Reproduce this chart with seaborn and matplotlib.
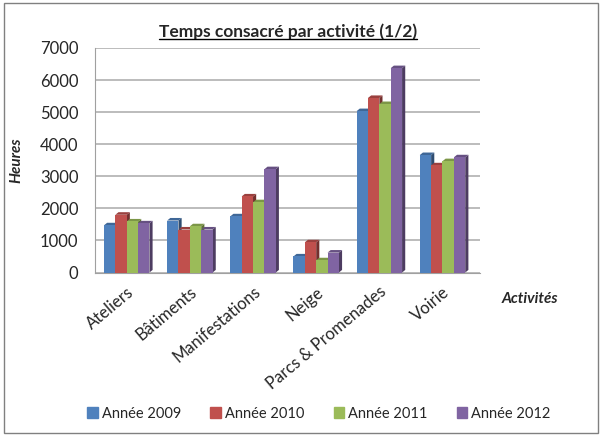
import pandas as pd
import seaborn as sns
from matplotlib import pyplot as plt
from matplotlib.patches import Polygon, Rectangle
import matplotlib.colors as mcolors

activites = ["Ateliers", "Bâtiments", "Manifestations", "Neige", "Parcs & Promenades", "Voirie"]
annees = ["Année 2009", "Année 2010", "Année 2011", "Année 2012"]
h2009 = [1470, 1620, 1750, 500, 5030, 3660]
h2010 = [1800, 1340, 2370, 940, 5440, 3340]
h2011 = [1590, 1440, 2190, 380, 5250, 3470]
h2012 = [1530, 1340, 3220, 620, 6370, 3590]
couleurs = ["#4F81BD", "#C0504D", "#9BBB59", "#8064A2"]

rows = []
for annee, vals in zip(annees, [h2009, h2010, h2011, h2012]):
    for act, v in zip(activites, vals):
        rows.append({"Activité": act, "Année": annee, "Heures": v})
df = pd.DataFrame(rows)

sns.set_style("white")
plt.rcParams['font.family'] = ['Lato', 'DejaVu Sans']

fig = plt.figure(figsize=(6.02, 4.36), dpi=100)
ax = fig.add_axes([0.158, 0.375, 0.64, 0.515])

sns.barplot(data=df, x="Activité", y="Heures", hue="Année", palette=couleurs,
            width=0.72, saturation=1, linewidth=0, ax=ax, legend=True)

# faux 3D : faces laterales et dessus, derriere la barre suivante
dx, dy = 0.05, 80
for patch in list(ax.patches):
    x0, y0 = patch.get_x(), patch.get_y()
    w, h = patch.get_width(), patch.get_height()
    if h <= 0:
        continue
    patch.set_zorder(3)
    col = mcolors.to_rgb(patch.get_facecolor())
    dark = tuple(c * 0.6 for c in col)
    mid = tuple(c * 0.8 for c in col)
    ax.add_patch(Polygon([(x0 + w, y0), (x0 + w + dx, y0 + dy), (x0 + w + dx, y0 + h + dy), (x0 + w, y0 + h)],
                         closed=True, facecolor=dark, edgecolor='none', zorder=2.5))
    ax.add_patch(Polygon([(x0, y0 + h), (x0 + dx, y0 + h + dy), (x0 + w + dx, y0 + h + dy), (x0 + w, y0 + h)],
                         closed=True, facecolor=mid, edgecolor='none', zorder=2.6))

ax.set_ylim(0, 7000)
ax.set_yticks(range(0, 7001, 1000))
ax.set_xlim(-0.5, 5.6)
ax.yaxis.grid(True, color="#b0b0b0", linewidth=1.2)
ax.set_axisbelow(True)
for s in ["top", "right"]:
    ax.spines[s].set_visible(False)
ax.spines["left"].set_color("#a0a0a0")
ax.spines["bottom"].set_color("#a0a0a0")
ax.tick_params(axis="y", labelsize=12, length=0, pad=12)
ax.tick_params(axis="x", labelsize=12, length=0, pad=8)
plt.setp(ax.get_xticklabels(), rotation=40, ha="right", rotation_mode="anchor")

ax.set_xlabel("")
ax.set_ylabel("Heures", fontsize=11, fontweight="bold", fontstyle="italic", labelpad=12)
fig.text(0.88, 0.305, "Activités", fontsize=11, fontweight="bold", fontstyle="italic", ha="center")

ax.set_title("Temps consacré par activité (1/2)", fontsize=12.5, fontweight="bold", pad=8)
t = ax.title
fig.canvas.draw()
bb = t.get_window_extent().transformed(fig.transFigure.inverted())
fig.add_artist(plt.Line2D([bb.x0, bb.x1], [bb.y0 + 0.002, bb.y0 + 0.002], color="black", linewidth=1))

ax.legend_.remove()
handles = [Rectangle((0, 0), 1, 1, color=c) for c in couleurs]
fig.legend(handles, annees, loc="lower center", ncol=4, frameon=False, fontsize=10.5,
           bbox_to_anchor=(0.53, 0.005), handlelength=0.7, handleheight=0.7, columnspacing=2.0,
           handletextpad=0.3)

fig.add_artist(Rectangle((0.006, 0.008), 0.988, 0.984, transform=fig.transFigure,
                         fill=False, edgecolor="#808080", linewidth=1))

fig.savefig("out.png", dpi=100)
